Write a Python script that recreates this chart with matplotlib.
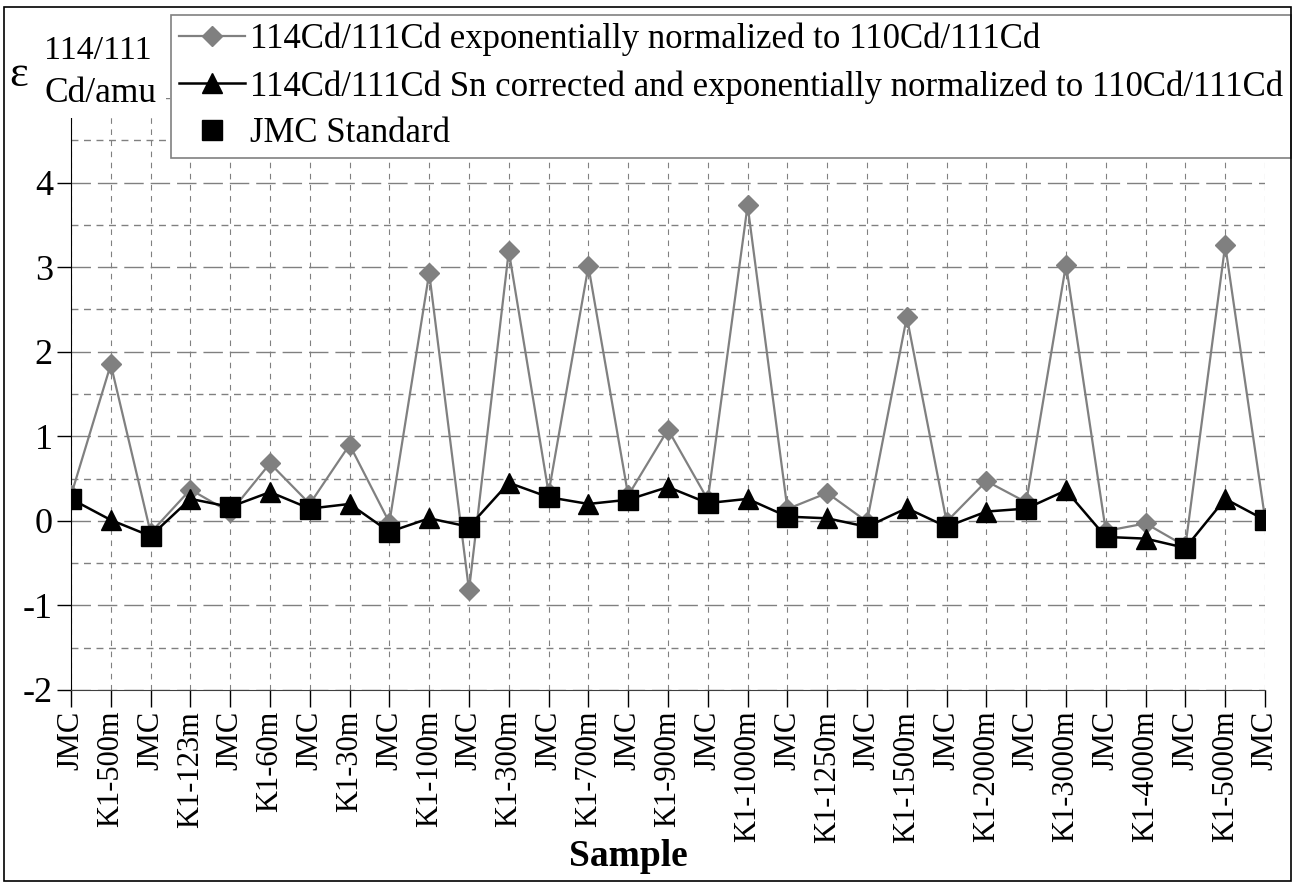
import matplotlib.pyplot as plt
from matplotlib.patches import Rectangle
from matplotlib.ticker import MultipleLocator
import numpy as np

plt.rcParams['font.family'] = ['Liberation Serif', 'DejaVu Serif']
plt.rcParams['axes.unicode_minus'] = False

# sample order (JMC standard bracketing each sample)
samples = ["JMC", "K1-500m", "JMC", "K1-123m", "JMC", "K1-60m", "JMC", "K1-30m",
           "JMC", "K1-100m", "JMC", "K1-300m", "JMC", "K1-700m", "JMC", "K1-900m",
           "JMC", "K1-1000m", "JMC", "K1-1250m", "JMC", "K1-1500m", "JMC", "K1-2000m",
           "JMC", "K1-3000m", "JMC", "K1-4000m", "JMC", "K1-5000m", "JMC"]

# exponentially normalized to 110Cd/111Cd
eps_norm = [0.30, 1.85, -0.14, 0.37, 0.10, 0.68, 0.20, 0.90, -0.02, 2.93, -0.82,
            3.19, 0.33, 3.01, 0.30, 1.08, 0.25, 3.73, 0.14, 0.33, -0.01, 2.41,
            -0.01, 0.47, 0.22, 3.03, -0.12, -0.03, -0.30, 3.26, 0.03]

# Sn corrected and exponentially normalized
eps_sn = [0.26, 0.01, -0.18, 0.26, 0.165, 0.34, 0.145, 0.20, -0.13, 0.03, -0.07,
          0.45, 0.28, 0.20, 0.25, 0.40, 0.21, 0.26, 0.05, 0.03, -0.07, 0.15,
          -0.07, 0.11, 0.145, 0.36, -0.19, -0.21, -0.32, 0.26, 0.01]

x = np.arange(len(samples))
jmc = [i for i, s in enumerate(samples) if s == "JMC"]
smp = [i for i, s in enumerate(samples) if s != "JMC"]

W, H = 1293, 885
fig = plt.figure(figsize=(W / 100, H / 100), dpi=100)
ax = fig.add_axes([71 / W, 1 - 690 / H, (1265 - 71) / W, (690 - 98) / H])

gray = '#808080'
l1, = ax.plot(x, eps_norm, color=gray, lw=1.6, marker='D', ms=10.5,
              mfc=gray, mec=gray, zorder=3,
              label="114Cd/111Cd exponentially normalized to 110Cd/111Cd")
l2, = ax.plot(x, eps_sn, color='black', lw=1.8, marker='^', ms=14,
              markevery=smp, mfc='black', mec='black', zorder=4,
              label="114Cd/111Cd Sn corrected and exponentially normalized to 110Cd/111Cd")
l3, = ax.plot(x[jmc], np.array(eps_sn)[jmc], ls='none', marker='s', ms=14.5,
              mfc='black', mec='black', zorder=5, label="JMC Standard")

ax.set_xlim(0, 30)
ax.set_ylim(-2, 5)
ax.yaxis.set_major_locator(MultipleLocator(1))
ax.yaxis.set_minor_locator(MultipleLocator(0.5))
ax.set_xticks(x)
ax.set_xticklabels(samples, rotation=90, fontsize=22)
ax.tick_params(axis='y', which='major', labelsize=26, length=10, width=1, direction='out', pad=3)
ax.tick_params(axis='y', which='minor', length=0)
ax.tick_params(axis='x', length=12, width=1, direction='out', pad=3)

ax.grid(True, axis='y', which='major', color=gray, lw=1, ls=(0, (14, 5)))
ax.grid(True, axis='y', which='minor', color=gray, lw=1, ls=(0, (5, 4)))
ax.grid(True, axis='x', which='major', color=gray, lw=0.8, ls=(0, (5, 5)))
ax.set_axisbelow(True)

for side in ['top', 'right']:
    ax.spines[side].set_visible(False)
ax.spines['left'].set_color('black')
ax.spines['bottom'].set_color('#404040')

fig.text(628 / W, 1 - 866 / H, "Sample", fontsize=27, fontweight='bold',
         ha='center', va='baseline')

# y label in the top left corner
fig.add_artist(Rectangle((0, 1 - 118 / H), 166 / W, 118 / H,
                         transform=fig.transFigure, facecolor='white',
                         edgecolor='none', zorder=5))
fig.text(9 / W, 1 - 86 / H, "ε", fontsize=32, ha='left', va='baseline', zorder=6)
fig.text(44 / W, 1 - 59 / H, "114/111", fontsize=24.5, ha='left', va='baseline', zorder=6)
fig.text(44 / W, 1 - 102 / H, "Cd/amu", fontsize=25.5, ha='left', va='baseline', zorder=6)

leg = fig.legend(handles=[l1, l2, l3], loc='upper left',
                 bbox_to_anchor=(171 / W, 1 - 15 / H), fontsize=25,
                 frameon=True, fancybox=False, framealpha=1, edgecolor=gray,
                 handlelength=1.9, handletextpad=0.15, borderpad=0.22,
                 labelspacing=0.4, borderaxespad=0)
leg.set_zorder(7)
leg.get_frame().set_linewidth(1.2)

# outer border
fig.add_artist(Rectangle((4 / W, 4 / H), (W - 6) / W, (H - 11) / H,
                         transform=fig.transFigure, facecolor='none',
                         edgecolor='black', lw=1.2, zorder=8))

fig.savefig("out.png", dpi=100)
